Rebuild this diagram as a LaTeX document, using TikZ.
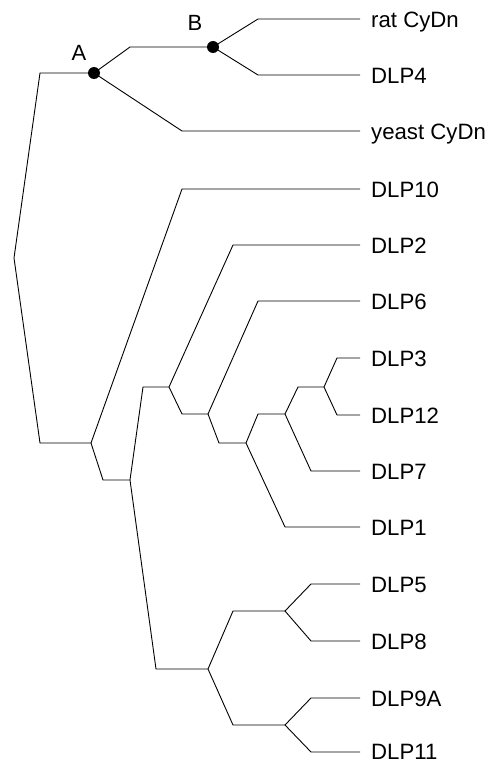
\documentclass[tikz,border=0pt]{standalone}
\usepackage{fontspec}
\setmainfont{Liberation Sans}
\begin{document}
\begin{tikzpicture}[x=1pt,y=-1pt,
  branch/.style={line width=0.9pt, line join=miter},
  leaf/.style={anchor=base west, inner xsep=11pt, inner ysep=0pt, font=\fontsize{22.2}{26}\selectfont},
  tag/.style={anchor=base, inner sep=0pt, font=\fontsize{22}{26}\selectfont},
  dot/.style={circle, fill=black, inner sep=0pt, minimum size=12pt}]
\useasboundingbox (0,0) rectangle (490,763);

% internal nodes of the tree
\coordinate (R)   at (14,258);
\coordinate (A)   at (94,73);
\coordinate (B)   at (213,47);
\coordinate (N1)  at (91,443);
\coordinate (N2)  at (130,480);
\coordinate (N3)  at (169,387);
\coordinate (N4)  at (208,414);
\coordinate (N5)  at (246,443);
\coordinate (N6)  at (285,414);
\coordinate (N6b) at (324,387);
\coordinate (N7)  at (208,669);
\coordinate (N8)  at (285,611);
\coordinate (N9)  at (285,725);

% bends where a slanted branch turns horizontal
\coordinate (kRA)  at (40,73);
\coordinate (kRN)  at (40,443);
\coordinate (kAB)  at (130,47);
\coordinate (kAy)  at (182,131);
\coordinate (kBr)  at (258,19);
\coordinate (kB4)  at (258,75);
\coordinate (k10)  at (182,189);
\coordinate (kN12) at (103,480);
\coordinate (kN23) at (143,387);
\coordinate (kN27) at (156,669);
\coordinate (k2)   at (233,245);
\coordinate (kN34) at (182,414);
\coordinate (k6)   at (258,301);
\coordinate (kN45) at (219,443);
\coordinate (kN56) at (258,414);
\coordinate (k1)   at (285,527);
\coordinate (kN66) at (298,387);
\coordinate (k7)   at (311,471);
\coordinate (k3)   at (337,358);
\coordinate (k12)  at (337,415);
\coordinate (kN78) at (233,611);
\coordinate (kN79) at (233,725);
\coordinate (k5)   at (311,584);
\coordinate (k8)   at (311,641);
\coordinate (k9A)  at (311,698);
\coordinate (k11)  at (311,752);

% leaf labels (base west sits where the leaf line ends)
\node[leaf] (rat)   at (360,27)  {rat CyDn};
\node[leaf] (d4)    at (360,83)  {DLP4};
\node[leaf] (yeast) at (360,139) {yeast CyDn};
\node[leaf] (d10)   at (360,197) {DLP10};
\node[leaf] (d2)    at (360,253) {DLP2};
\node[leaf] (d6)    at (360,309) {DLP6};
\node[leaf] (d3)    at (360,366) {DLP3};
\node[leaf] (d12)   at (360,423) {DLP12};
\node[leaf] (d7)    at (360,479) {DLP7};
\node[leaf] (d1)    at (360,535) {DLP1};
\node[leaf] (d5)    at (360,592) {DLP5};
\node[leaf] (d8)    at (360,649) {DLP8};
\node[leaf] (d9A)   at (360,706) {DLP9A};
\node[leaf] (d11)   at (360,759.5) {DLP11};

% branches
\draw[branch] (A) -- (kRA) -- (R) -- (kRN) -- (N1);
\draw[branch] (B) -- (kAB) -- (A) -- (kAy) -- (kAy -| yeast.base west);
\draw[branch] (kBr -| rat.base west) -- (kBr) -- (B) -- (kB4) -- (kB4 -| d4.base west);
\draw[branch] (k10 -| d10.base west) -- (k10) -- (N1) -- (kN12) -- (N2);
\draw[branch] (N3) -- (kN23) -- (N2) -- (kN27) -- (N7);
\draw[branch] (k2 -| d2.base west) -- (k2) -- (N3) -- (kN34) -- (N4);
\draw[branch] (k6 -| d6.base west) -- (k6) -- (N4) -- (kN45) -- (N5);
\draw[branch] (N6) -- (kN56) -- (N5) -- (k1) -- (k1 -| d1.base west);
\draw[branch] (N6b) -- (kN66) -- (N6) -- (k7) -- (k7 -| d7.base west);
\draw[branch] (k3 -| d3.base west) -- (k3) -- (N6b) -- (k12) -- (k12 -| d12.base west);
\draw[branch] (N8) -- (kN78) -- (N7) -- (kN79) -- (N9);
\draw[branch] (k5 -| d5.base west) -- (k5) -- (N8) -- (k8) -- (k8 -| d8.base west);
\draw[branch] (k9A -| d9A.base west) -- (k9A) -- (N9) -- (k11) -- (k11 -| d11.base west);

% marked ancestral nodes
\node[dot] (dotA) at (A) {};
\node[dot] (dotB) at (B) {};
\node[tag] (labA) at (79,60) {A};
\node[tag] (labB) at (195,30) {B};
\end{tikzpicture}
\end{document}
